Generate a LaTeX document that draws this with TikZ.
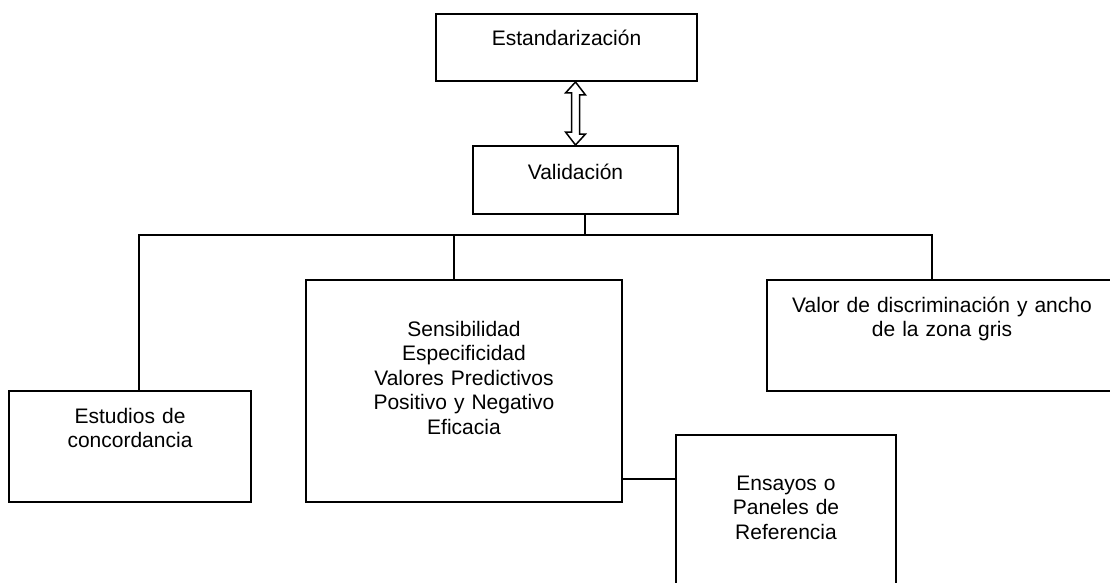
\documentclass[tikz,border=0pt]{standalone}
\usepackage{fontspec}
\setmainfont{Liberation Sans}
\usetikzlibrary{calc}

\tikzset{
  box/.style={draw, line width=2pt, anchor=north, align=center,
    inner xsep=0pt, inner ysep=0pt, text height=32pt,
    font=\fontsize{21}{24.5}\selectfont},
  wire/.style={line width=2pt}
}

\begin{document}
\begin{tikzpicture}[x=1pt,y=-1pt]
  \clip (0,0) rectangle (1110,583);
  \node[box, text width=261pt, text height=31.5pt, text depth=35.5pt] (est) at (566.5,13) {Estandarización};
  \node[box, text width=205pt, text height=33pt, text depth=35pt] (val) at (575.5,145) {Validación};
  \node[box, text width=242pt, text depth=79pt] (stu) at (130,390) {Estudios de\\concordancia};
  \node[box, text width=316pt, text height=56pt, text depth=166pt] (sens) at (464,279)
    {Sensibilidad\\Especificidad\\Valores Predictivos\\Positivo y Negativo\\Eficacia};
  \node[box, text width=350pt, text depth=79pt] (valor) at (942,279) {Valor de discriminación y ancho\\de la zona gris};
  \node[box, text width=220pt, text height=55pt, text depth=111pt] (ens) at (786,434) {Ensayos o\\Paneles de\\Referencia};
  % hollow double arrow between the two top boxes
  \draw[line width=1.5pt, fill=white] (val.north |- est.south) -- ++(10,13) -- ++(-6,0) -- ++(0,39) -- ++(6,0)
    -- (val.north) -- ++(-10,-13) -- ++(6,0) -- ++(0,-39) -- ++(-6,0) -- cycle;
  \coordinate (busL) at (139,235);
  \coordinate (busM) at (454,235);
  \coordinate (busR) at (932,235);
  \draw[wire] ([xshift=9pt]val.south) -- ([xshift=9pt]val.south |- busL);
  \draw[wire] (stu.north -| busL) -- (busL) -- (busR) -- (busR |- valor.north);
  \draw[wire] (busM) -- (busM |- sens.north);
  \draw[wire] ([yshift=-88pt]sens.east) coordinate (j) -- (j -| ens.west);
\end{tikzpicture}
\end{document}
